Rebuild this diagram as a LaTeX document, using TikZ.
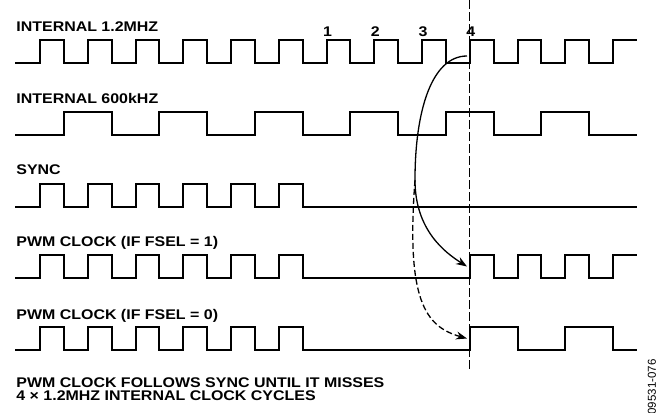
\documentclass[tikz,border=0pt]{standalone}
\usepackage{fontspec}
\newfontfamily\arial{Liberation Sans}
\newfontfamily\arialw[FakeStretch=1.14]{Liberation Sans}
\usetikzlibrary{arrows.meta}
\tikzset{
  wave/.style={line width=1pt},
  lbl/.style={anchor=base west, inner sep=0pt, font=\arialw\bfseries\fontsize{7}{8}\selectfont},
  num/.style={anchor=base, inner sep=0pt, font=\arialw\bfseries\fontsize{7}{8}\selectfont},
  cut/.style={line width=0.5pt, dash pattern=on 4.5pt off 1.5pt},
  flow/.style={line width=0.65pt, -{Stealth[length=5.5pt,width=4pt]}},
}
\begin{document}
\begin{tikzpicture}[x=0.5pt, y=-0.5pt, line join=miter]
		\useasboundingbox (0,0) rectangle (671,413);
		
		% Clock period and pulse height
		\def\per{47.75} % 1.2MHz period
		\def\hw{23.875} % half period
		\def\amp{23}
		
		% Signal names
		\node[lbl] (lclk) at (16,31.5) {INTERNAL 1.2MHZ};
		\node[lbl] (lslow) at (16,103) {INTERNAL 600kHZ};
		\node[lbl] (lsync) at (16,174) {SYNC};
		\node[lbl] (lpwma) at (16,246) {PWM CLOCK (IF FSEL = 1)};
		\node[lbl] (lpwmb) at (16,319) {PWM CLOCK (IF FSEL = 0)};
		
		% Cycle count above the 1.2MHz clock
		\foreach \i in {1,...,4}
			\node[num] (n\i) at ({40+(\i+5)*\per+1},36.5) {\i};
		
		% Internal 1.2MHz
		\draw[wave] (15,63) \foreach \k in {0,...,11} { -- ({40+\k*\per},63) -- ++(0,-\amp) -- ++(\hw,0) -- ++(0,\amp) } -- (613,63) -- ++(0,-\amp) -- (637,40);
		
		% Internal 600kHz
		\draw[wave] (15,135) \foreach \k in {0,...,5} { -- ({40+\hw+2*\k*\per},135) -- ++(0,-\amp) -- ++(\per,0) -- ++(0,\amp) } -- (637,135);
		
		% Sync stops after six pulses
		\draw[wave] (15,207) \foreach \k in {0,...,5} { -- ({40+\k*\per},207) -- ++(0,-\amp) -- ++(\hw,0) -- ++(0,\amp) } -- (637,207);
		
		% PWM clock, FSEL = 1
		\draw[wave] (15,278) \foreach \k in {0,1,2,3,4,5,9,10,11} { -- ({40+\k*\per},278) -- ++(0,-\amp) -- ++(\hw,0) -- ++(0,\amp) } -- (613,278) -- ++(0,-\amp) -- (637,255);
		
		% PWM clock, FSEL = 0
		\draw[wave] (15,350) \foreach \k in {0,...,5} { -- ({40+\k*\per},350) -- ++(0,-\amp) -- ++(\hw,0) -- ++(0,\amp) } \foreach \k in {9,11} { -- ({40+\k*\per},350) -- ++(0,-\amp) -- ++(\per,0) -- ++(0,\amp) } -- (637,350);
		
		% Dashed marker at the 4th cycle
		\coordinate (cuttop) at ({40+9*\per},0);
		\coordinate (cutbot) at ({40+9*\per},372);
		\draw[cut] (cuttop) -- (cutbot);
		
		% Arrows from the 4th cycle to the PWM clocks
		\coordinate (start) at (467,56);
		\coordinate (split) at (415,180);
		\coordinate (hita) at (467,266.5);
		\coordinate (hitb) at (467,338.5);
		\draw[flow] (start) .. controls +(-35,0) and +(0,-70) .. (split) .. controls +(0,50) and +(-22,-14) .. (hita);
		\draw[flow, dash pattern=on 3pt off 1.5pt] (split) .. controls +(-9,120) and +(-42,-12) .. (hitb);
		
		% Note under the diagram
		\node[lbl] (note1) at (16,387) {PWM CLOCK FOLLOWS SYNC UNTIL IT MISSES};
		\node[lbl] (note2) at (16,400) {4 × 1.2MHZ INTERNAL CLOCK CYCLES};
		
		% Figure number
		\node[rotate=90, inner sep=0pt, font=\arial\fontsize{5.75}{6}\selectfont] (fignum) at (652,387) {09531-076};
		
\end{tikzpicture}
\end{document}
